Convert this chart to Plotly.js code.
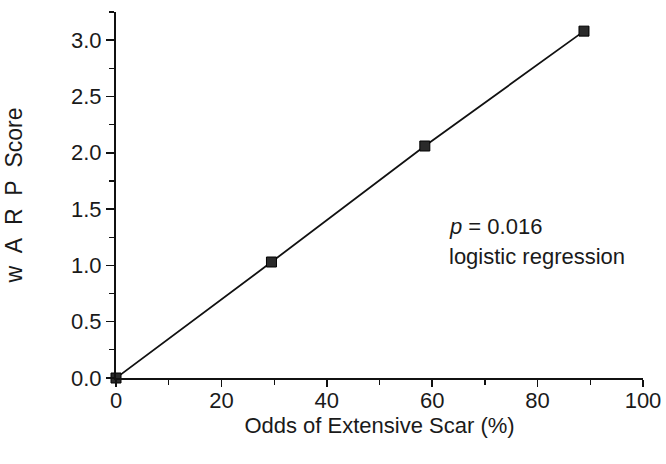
<!DOCTYPE html>
<html>
<head>
<meta charset="utf-8">
<script src="https://cdn.plot.ly/plotly-3.0.1.min.js"></script>
<style>html,body{margin:0;padding:0;background:#fff;}#chart{width:666px;height:464px;}</style>
</head>
<body>
<div id="chart"></div>
<script>
// Data
const oddsExtensiveScar = [0, 29.5, 58.6, 88.8];   // x, %
const warpScore = [0, 1.03, 2.06, 3.08];           // y
const xTickVals = [0, 20, 40, 60, 80, 100];
const yTickVals = [0, 0.5, 1.0, 1.5, 2.0, 2.5, 3.0];
const xTitle = "Odds of Extensive Scar (%)";
const yTitle = "w\u00a0\u00a0A\u00a0\u00a0R\u00a0\u00a0P\u00a0\u00a0Score";
const pText = "<i>p</i> = 0.016";
const methodText = "logistic regression";

const font = {family: "Liberation Sans, Arial, sans-serif", color: "#1a1a1a"};
const f = (s) => Object.assign({size: s}, font);

const trace = {
  x: oddsExtensiveScar,
  y: warpScore,
  type: "scatter",
  mode: "lines+markers",
  line: {color: "#111", width: 1.8},
  marker: {symbol: "square", size: 10, color: "#2a2a2a", line: {color: "#000", width: 1}},
  cliponaxis: false,
  hoverinfo: "skip"
};

const layout = {
  width: 666, height: 464,
  margin: {l: 116, r: 23, t: 12, b: 86},
  paper_bgcolor: "#fff", plot_bgcolor: "#fff",
  showlegend: false,
  font: f(22),
  xaxis: {
    range: [0, 100],
    tickvals: xTickVals,
    ticks: "outside", ticklen: 7, tickwidth: 1.5, tickcolor: "#111",
    minor: {dtick: 10, ticks: "outside", ticklen: 5, tickwidth: 1.2, tickcolor: "#111"},
    showline: true, linecolor: "#111", linewidth: 2,
    showgrid: false, zeroline: false,
    tickfont: f(22),
    ticklabelstandoff: -5,
    title: {text: xTitle, font: f(22), standoff: 3},
    automargin: false
  },
  yaxis: {
    range: [0, 3.25],
    tickvals: yTickVals,
    tickformat: ".1f",
    ticks: "outside", ticklen: 8, tickwidth: 1.5, tickcolor: "#111",
    minor: {dtick: 0.25, ticks: "outside", ticklen: 5, tickwidth: 1.2, tickcolor: "#111"},
    showline: true, linecolor: "#111", linewidth: 2,
    showgrid: false, zeroline: false,
    tickfont: f(22),
    title: {text: yTitle, font: f(23), standoff: 42},
    automargin: false
  },
  annotations: [
    {xref: "paper", yref: "paper", x: 0.628, y: 0.4126, xanchor: "left", yanchor: "middle",
     text: pText, showarrow: false, font: f(22)},
    {xref: "paper", yref: "paper", x: 0.628, y: 0.333, xanchor: "left", yanchor: "middle",
     text: methodText, showarrow: false, font: f(22)}
  ]
};

Plotly.newPlot("chart", [trace], layout, {displayModeBar: false, staticPlot: true});
</script>
</body>
</html>
